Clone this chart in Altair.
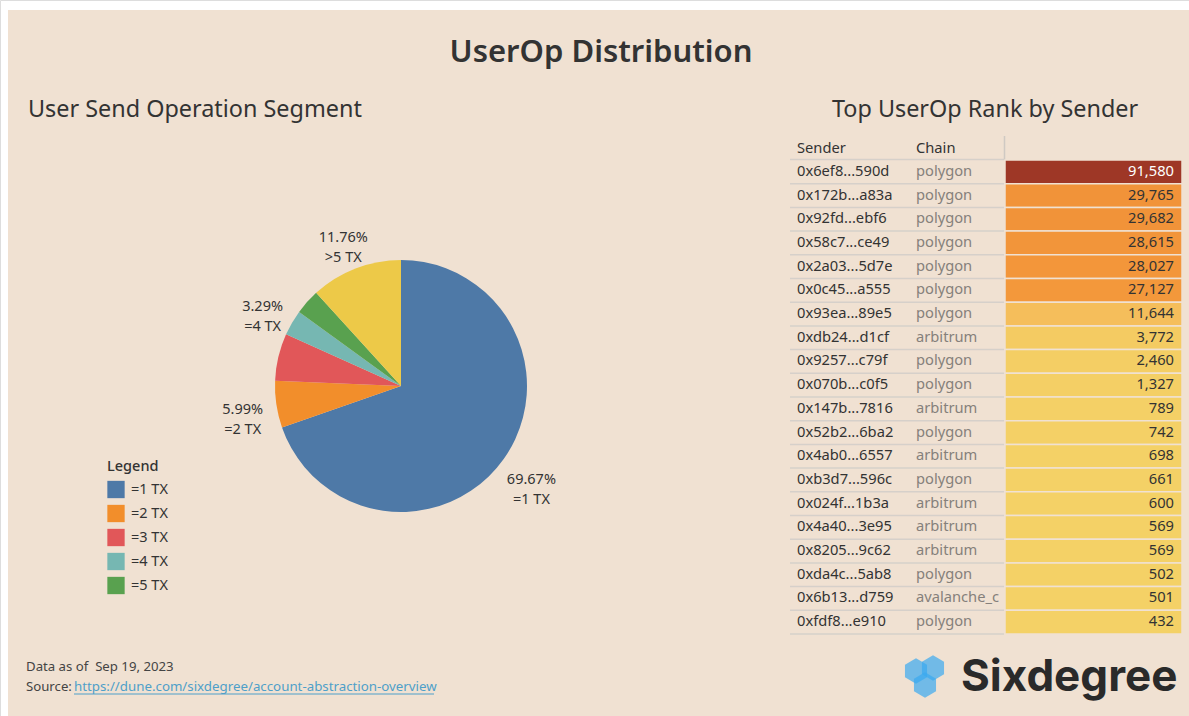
import altair as alt
import pandas as pd

# ---------------- data ----------------
segments = ["=1 TX", "=2 TX", "=3 TX", "=4 TX", "=5 TX", ">5 TX"]
shares = [69.67, 5.99, 6.06, 3.29, 3.23, 11.76]
pie_labels = ["69.67%\n=1 TX", "5.99%\n=2 TX", "", "3.29%\n=4 TX", "", "11.76%\n>5 TX"]
seg_colors = ["#4e79a7", "#f28e2b", "#e15759", "#76b7b2", "#59a14f", "#edc948"]

senders = ["0x6ef8...590d", "0x172b...a83a", "0x92fd...ebf6", "0x58c7...ce49", "0x2a03...5d7e",
           "0x0c45...a555", "0x93ea...89e5", "0xdb24...d1cf", "0x9257...c79f", "0x070b...c0f5",
           "0x147b...7816", "0x52b2...6ba2", "0x4ab0...6557", "0xb3d7...596c", "0x024f...1b3a",
           "0x4a40...3e95", "0x8205...9c62", "0xda4c...5ab8", "0x6b13...d759", "0xfdf8...e910"]
chains = ["polygon", "polygon", "polygon", "polygon", "polygon", "polygon", "polygon", "arbitrum",
          "polygon", "polygon", "arbitrum", "polygon", "arbitrum", "polygon", "arbitrum", "arbitrum",
          "arbitrum", "polygon", "avalanche_c", "polygon"]
counts = [91580, 29765, 29682, 28615, 28027, 27127, 11644, 3772, 2460, 1327,
          789, 742, 698, 661, 600, 569, 569, 502, 501, 432]

pie_df = pd.DataFrame({"segment": segments, "share": shares, "label": pie_labels,
                       "idx": list(range(len(segments)))})
tab_df = pd.DataFrame({"sender": senders, "chain": chains, "count": counts})

BG = "#f0e1d2"
DARK = "#333333"
FONT = "Noto Sans"

one = pd.DataFrame({"a": [0]})

# ---------------- background ----------------
bg = alt.Chart(one).mark_rect(fill=BG).encode(
    x=alt.value(8), x2=alt.value(1189), y=alt.value(10), y2=alt.value(716))

# ---------------- titles ----------------
def txt(s, x, y, size, align="left", weight="normal", color=DARK, font=FONT, baseline="middle"):
    return alt.Chart(one).mark_text(text=s, fontSize=size, align=align, fontWeight=weight,
                                    color=color, font=font, baseline=baseline).encode(
        x=alt.value(x), y=alt.value(y))

title = txt("UserOp Distribution", 601, 53, 31, align="center", weight=600)
sub_l = txt("User Send Operation Segment", 28, 110, 23.4)
sub_r = txt("Top UserOp Rank by Sender", 985, 110, 23.4, align="center")

# ---------------- pie ----------------
CX, CY = 401, 386
theta = alt.Theta("share:Q", stack=True)
arcs = alt.Chart(pie_df).mark_arc(outerRadius=126).encode(
    theta=theta,
    order=alt.Order("idx:Q"),
    color=alt.Color("segment:N",
                    scale=alt.Scale(domain=segments, range=seg_colors),
                    sort=segments,
                    legend=alt.Legend(title="Legend", values=segments[:5], orient="none",
                                      legendX=107, legendY=460, symbolType="square",
                                      symbolSize=300, symbolStrokeWidth=0, labelFontSize=14.5,
                                      titleFontSize=14.5, titleFontWeight=500, labelColor=DARK,
                                      titleColor=DARK, rowPadding=6, titlePadding=6,
                                      labelOffset=6, labelFont=FONT, titleFont=FONT,
                                      symbolOpacity=1)),
    x=alt.value(CX), y=alt.value(CY))

pie_text = alt.Chart(pie_df).mark_text(radius=160, fontSize=14.5, color=DARK, lineBreak="\n",
                                       font=FONT, lineHeight=20).encode(
    theta=theta,
    order=alt.Order("idx:Q"),
    text="label:N",
    x=alt.value(CX), y=alt.value(CY + 1))

# ---------------- table ----------------
yscale = alt.Scale(type="band", range=[160, 634], paddingInner=0, paddingOuter=0)
Y = alt.Y("sender:N", sort=None, scale=yscale, axis=None)
Yb = alt.Y("sender:N", sort=None, scale=yscale, axis=None, bandPosition=1)

row_lines = alt.Chart(tab_df).mark_rule(color="#d6d0ca", strokeWidth=1.5).encode(
    x=alt.value(790), x2=alt.value(1004), y=Yb)
head_line = alt.Chart(one).mark_rule(color="#d6d0ca", strokeWidth=1.5).encode(
    x=alt.value(790), x2=alt.value(1004), y=alt.value(159.5))
vert_line = alt.Chart(one).mark_rule(color="#cfc9c3", strokeWidth=1.5).encode(
    x=alt.value(1004.5), y=alt.value(136), y2=alt.value(160))

cells = alt.Chart(tab_df).mark_rect(stroke=BG, strokeWidth=1.5).encode(
    x=alt.value(1005), x2=alt.value(1182), y=Y,
    fill=alt.Fill("count:Q",
                  scale=alt.Scale(domain=[432, 11644, 28000, 91580],
                                  range=["#f4d166", "#f5be5b", "#f3963a", "#9e3726"]),
                  legend=None))

sender_t = alt.Chart(tab_df).mark_text(align="left", fontSize=14.7, color=DARK, font=FONT).encode(
    x=alt.value(797), y=Y, text="sender:N")
chain_t = alt.Chart(tab_df).mark_text(align="left", fontSize=14.7, color="#85807b", font=FONT).encode(
    x=alt.value(916), y=Y, text="chain:N")
count_t = alt.Chart(tab_df).mark_text(align="right", fontSize=14.7, font=FONT).encode(
    x=alt.value(1174), y=Y, text=alt.Text("count:Q", format=","),
    color=alt.condition("datum.count > 50000", alt.value("#ffffff"), alt.value(DARK)))

h_sender = txt("Sender", 797, 149, 14.7)
h_chain = txt("Chain", 916, 149, 14.7)

# ---------------- footer ----------------
f1 = txt("Data as of\u00a0 Sep 19, 2023", 26, 667, 13.2, color="#444444")
f2 = txt("Source:", 26, 687, 13.2, color="#444444")
f3 = txt("https://dune.com/sixdegree/account-abstraction-overview", 74, 687, 13.3, color="#4e9fc9")
uline = alt.Chart(one).mark_rule(color="#4e9fc9", strokeWidth=1).encode(
    x=alt.value(74), x2=alt.value(434), y=alt.value(694))

# ---------------- logo ----------------
HEX = "M0,-1L0.866,-0.5L0.866,0.5L0,1L-0.866,0.5L-0.866,-0.5Z"
def hexa(x, y):
    return alt.Chart(one).mark_point(shape=HEX, filled=True, size=650, fill="#3aaaf0",
                                     opacity=0.7, strokeWidth=0).encode(
        x=alt.value(x), y=alt.value(y))

logo_text = txt("Sixdegree", 961, 678, 44, weight="bold", color="#2a2a2a", font="Inter")

chart = alt.layer(
    bg, title, sub_l, sub_r,
    arcs, pie_text,
    row_lines, head_line, vert_line, cells, sender_t, chain_t, count_t, h_sender, h_chain,
    f1, f2, f3, uline,
    hexa(916, 671), hexa(933, 668), hexa(925, 685), logo_text,
).properties(
    width=1189, height=716, background="#ffffff", padding=0,
    autosize=alt.AutoSizeParams(type="none"),
).configure_view(strokeWidth=0).configure(font=FONT)

chart.save("out.html", embed_options={"renderer": "svg", "actions": False})
